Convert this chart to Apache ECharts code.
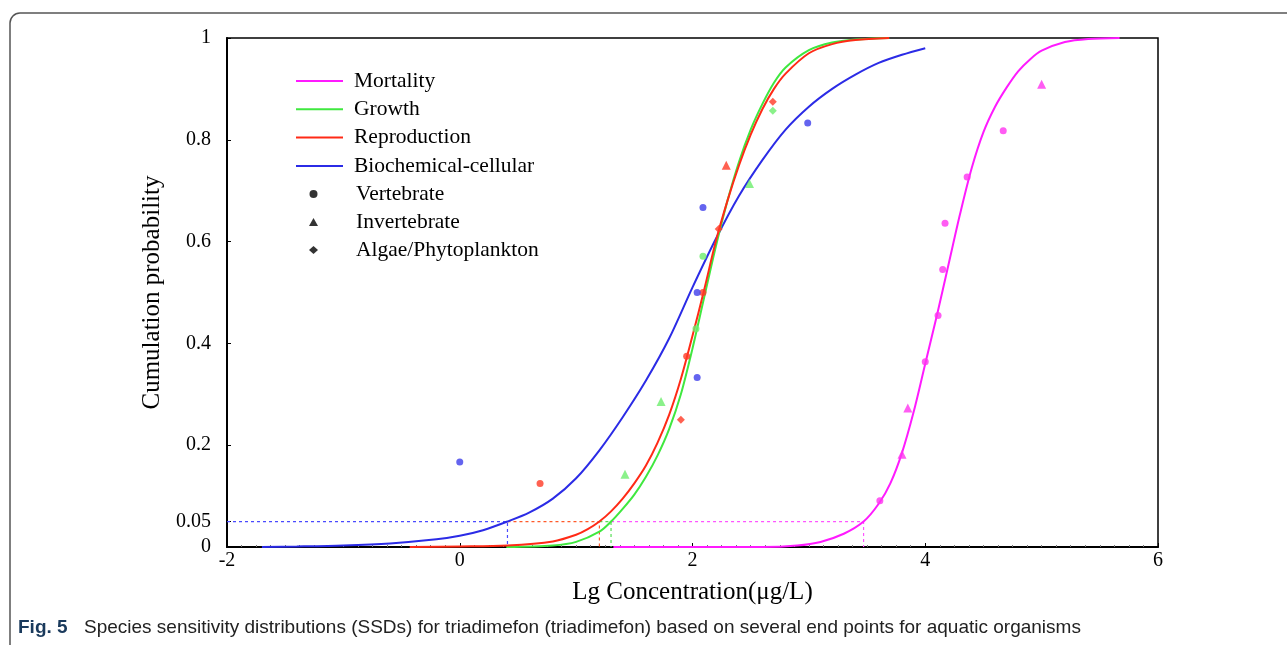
<!DOCTYPE html>
<html>
<head>
<meta charset="utf-8">
<title>SSD triadimefon</title>
<script src="https://cdn.jsdelivr.net/npm/echarts@6.0.0/dist/echarts.min.js"></script>
<style>
  html, body { margin: 0; padding: 0; background: #fff; }
  #chart { width: 1287px; height: 645px; }
</style>
</head>
<body>
<div id="chart"></div>
<script>
// fitted curves (x = lg concentration, y = cumulative probability)
const mortalityCurveX = [1.32, 2.6, 2.9, 3.1, 3.3, 3.47, 3.6, 3.7, 3.8, 3.9, 4.0, 4.1, 4.2, 4.3, 4.4, 4.5, 4.6, 4.7, 4.8, 4.9, 5.0, 5.2, 5.4, 5.67];
const mortalityCurveY = [0, 0, 0.003, 0.01, 0.026, 0.05, 0.085, 0.125, 0.185, 0.265, 0.36, 0.455, 0.555, 0.655, 0.745, 0.815, 0.865, 0.903, 0.935, 0.958, 0.975, 0.992, 0.998, 1];
const growthCurveX = [0.4, 0.8, 1.0, 1.2, 1.3, 1.4, 1.5, 1.6, 1.7, 1.8, 1.9, 2.0, 2.1, 2.2, 2.3, 2.4, 2.5, 2.6, 2.7, 2.8, 3.0, 3.2, 3.4, 3.69];
const growthCurveY = [0, 0.003, 0.01, 0.03, 0.05, 0.075, 0.103, 0.138, 0.18, 0.232, 0.3, 0.39, 0.49, 0.59, 0.68, 0.757, 0.82, 0.87, 0.912, 0.942, 0.976, 0.991, 0.997, 1];
const reproCurveX = [-0.43, 0, 0.41, 0.8, 1.0, 1.1, 1.2, 1.3, 1.4, 1.5, 1.6, 1.7, 1.8, 1.9, 2.0, 2.1, 2.2, 2.3, 2.4, 2.5, 2.6, 2.7, 2.8, 3.0, 3.2, 3.4, 3.69];
const reproCurveY = [0, 0.001, 0.003, 0.011, 0.024, 0.035, 0.05, 0.07, 0.095, 0.125, 0.16, 0.205, 0.26, 0.33, 0.415, 0.505, 0.6, 0.68, 0.75, 0.81, 0.86, 0.9, 0.93, 0.97, 0.988, 0.996, 1];
const biochemCurveX = [-1.7, -1.4, -1.0, -0.6, -0.2, 0, 0.2, 0.41, 0.6, 0.8, 1.0, 1.2, 1.4, 1.6, 1.8, 2.0, 2.2, 2.4, 2.6, 2.8, 3.0, 3.2, 3.4, 3.6, 3.8, 4.0];
const biochemCurveY = [0, 0.001, 0.003, 0.007, 0.015, 0.022, 0.033, 0.05, 0.068, 0.095, 0.135, 0.19, 0.255, 0.327, 0.41, 0.51, 0.605, 0.69, 0.76, 0.82, 0.865, 0.9, 0.928, 0.951, 0.967, 0.98];

// HC5 crossings (x where each curve reaches 0.05): mortality, growth, reproduction, biochemical
const hc5X = [3.47, 1.3, 1.2, 0.41];
const hc5Level = 0.05;

// observed points; type V = vertebrate, I = invertebrate, A = algae/phytoplankton
const mortalityPtsX = [3.61, 3.8, 3.85, 4.0, 4.11, 4.15, 4.17, 4.36, 4.67, 5.0];
const mortalityPtsY = [0.091, 0.182, 0.273, 0.364, 0.455, 0.545, 0.636, 0.727, 0.818, 0.909];
const mortalityPtsType = ['V', 'I', 'I', 'V', 'V', 'V', 'V', 'V', 'V', 'I'];
const growthPtsX = [1.42, 1.73, 2.03, 2.09, 2.49, 2.69];
const growthPtsY = [0.143, 0.286, 0.429, 0.571, 0.714, 0.857];
const growthPtsType = ['I', 'I', 'V', 'V', 'I', 'A'];
const reproPtsX = [0.69, 1.9, 1.95, 2.09, 2.225, 2.29, 2.69];
const reproPtsY = [0.125, 0.25, 0.375, 0.5, 0.625, 0.75, 0.875];
const reproPtsType = ['V', 'A', 'V', 'V', 'A', 'I', 'A'];
const biochemPtsX = [0, 2.04, 2.04, 2.09, 2.99];
const biochemPtsY = [0.167, 0.333, 0.5, 0.667, 0.833];
const biochemPtsType = ['V', 'V', 'V', 'V', 'V'];

const xTicks = [-2, 0, 2, 4, 6];
const yTicks = [0, 0.05, 0.2, 0.4, 0.6, 0.8, 1];

const curveNames = ['Mortality', 'Growth', 'Reproduction', 'Biochemical-cellular'];
const groupNames = ['Vertebrate', 'Invertebrate', 'Algae/Phytoplankton'];

const colors = {
  Mortality: '#ff1aff',
  Growth: '#3fe83f',
  Reproduction: '#ff2a16',
  'Biochemical-cellular': '#2b2be6'
};
const dashColors = {
  Mortality: '#ff55ff',
  Growth: '#55dd55',
  Reproduction: '#ff5a2a',
  'Biochemical-cellular': '#4a4aff'
};
const ptColors = {
  Mortality: '#ff33f0',
  Growth: '#6ded6d',
  Reproduction: '#ff3a26',
  'Biochemical-cellular': '#3d3deb'
};

const serif = '"Liberation Serif", "DejaVu Serif", serif';
const sans = '"Liberation Sans", Arial, sans-serif';

function zip(xs, ys) {
  return xs.map((x, i) => [x, ys[i]]);
}

const curves = [
  { name: 'Biochemical-cellular', x: biochemCurveX, y: biochemCurveY },
  { name: 'Growth', x: growthCurveX, y: growthCurveY },
  { name: 'Reproduction', x: reproCurveX, y: reproCurveY },
  { name: 'Mortality', x: mortalityCurveX, y: mortalityCurveY }
];

const pointSets = [
  { name: 'Mortality', x: mortalityPtsX, y: mortalityPtsY, t: mortalityPtsType },
  { name: 'Growth', x: growthPtsX, y: growthPtsY, t: growthPtsType },
  { name: 'Reproduction', x: reproPtsX, y: reproPtsY, t: reproPtsType },
  { name: 'Biochemical-cellular', x: biochemPtsX, y: biochemPtsY, t: biochemPtsType }
];

let series = [];

// dashed HC5 guides: each horizontal piece starts where the previous (smaller) crossing ends
curveNames.forEach((name, i) => {
  const xc = hc5X[i];
  const lower = hc5X.filter((v) => v < xc);
  const start = lower.length ? Math.max.apply(null, lower) : -2;
  series.push({
    name: 'hc5-' + name,
    type: 'line',
    silent: true,
    symbol: 'none',
    color: dashColors[name],
    data: [[start, hc5Level], [xc, hc5Level], [xc, 0]],
    lineStyle: { color: dashColors[name], width: 1.2, type: [3, 3] },
    itemStyle: { color: dashColors[name] },
    z: 1
  });
});

curves.forEach((c) => {
  series.push({
    name: c.name,
    type: 'line',
    symbol: 'none',
    showSymbol: false,
    smooth: 0.3,
    color: colors[c.name],
    data: zip(c.x, c.y),
    lineStyle: { color: colors[c.name], width: 2 },
    itemStyle: { color: colors[c.name] },
    z: 3
  });
});

const shapeOf = { V: 'circle', I: 'triangle', A: 'diamond' };
const sizeOf = { V: 7, I: 9, A: 8 };
const groupOf = { V: 'Vertebrate', I: 'Invertebrate', A: 'Algae/Phytoplankton' };

['V', 'I', 'A'].forEach((k) => {
  let data = [];
  pointSets.forEach((p) => {
    p.x.forEach((x, i) => {
      if (p.t[i] === k) {
        data.push({ value: [x, p.y[i]], itemStyle: { color: ptColors[p.name] } });
      }
    });
  });
  series.push({
    name: groupOf[k],
    type: 'scatter',
    symbol: shapeOf[k],
    symbolSize: sizeOf[k],
    color: '#000',
    itemStyle: { color: '#000' },
    data: data,
    z: 5
  });
});

const legendText = {
  fontFamily: serif,
  fontSize: 21.5,
  lineHeight: 22,
  color: '#000'
};

const chart = echarts.init(document.getElementById('chart'));
chart.setOption({
  animation: false,
  backgroundColor: '#fff',
  grid: {
    left: 227,
    right: 129,
    top: 38,
    bottom: 98,
    show: true,
    borderColor: '#000',
    borderWidth: 1.5,
    backgroundColor: 'transparent'
  },
  legend: [
    {
      data: curveNames.map((n) => ({ name: n, icon: 'rect' })),
      orient: 'vertical',
      left: 291,
      top: 65,
      itemWidth: 47,
      itemHeight: 2,
      itemGap: 6.3,
      selectedMode: false,
      textStyle: Object.assign({ padding: [0, 0, 0, 6] }, legendText)
    },
    {
      data: groupNames.map((n) => ({ name: n })),
      orient: 'vertical',
      left: 304,
      top: 178,
      itemWidth: 9,
      itemHeight: 8,
      itemGap: 6,
      selectedMode: false,
      textStyle: Object.assign({ padding: [0, 0, 0, 33] }, legendText)
    }
  ],
  xAxis: {
    type: 'value',
    min: -2,
    max: 6,
    interval: 2,
    name: 'Lg Concentration(μg/L)',
    nameLocation: 'middle',
    nameGap: 33,
    nameTextStyle: { fontFamily: serif, fontSize: 25, color: '#000' },
    axisLine: { onZero: false, lineStyle: { color: '#000', width: 2 } },
    axisTick: { inside: true, length: 4, lineStyle: { color: '#000' } },
    minorTick: { show: true, splitNumber: 16, length: 2, lineStyle: { color: '#777' } },
    axisLabel: {
      fontFamily: serif,
      fontSize: 20,
      color: '#000',
      margin: 4,
      customValues: xTicks
    },
    splitLine: { show: false }
  },
  yAxis: {
    type: 'value',
    min: 0,
    max: 1,
    name: 'Cumulation probability',
    nameLocation: 'middle',
    nameGap: 56,
    nameTextStyle: { fontFamily: serif, fontSize: 25, color: '#000' },
    axisLine: { show: true, onZero: false, lineStyle: { color: '#000', width: 2 } },
    axisTick: { show: true, inside: true, length: 4, customValues: yTicks, lineStyle: { color: '#000' } },
    axisLabel: {
      fontFamily: serif,
      fontSize: 20,
      color: '#000',
      margin: 16,
      customValues: yTicks
    },
    splitLine: { show: false }
  },
  graphic: [
    {
      type: 'rect',
      silent: true,
      shape: { x: 10, y: 13, width: 1300, height: 700, r: 10 },
      style: { fill: 'none', stroke: '#555', lineWidth: 1.5 }
    },
    {
      type: 'text',
      left: 18,
      top: 618,
      style: {
        text: 'Fig. 5',
        fontFamily: sans,
        fontWeight: 'bold',
        fontSize: 19,
        fill: '#1a3a5c'
      }
    },
    {
      type: 'text',
      left: 84,
      top: 618,
      style: {
        text: 'Species sensitivity distributions (SSDs) for triadimefon (triadimefon) based on several end points for aquatic organisms',
        fontFamily: sans,
        fontSize: 19,
        fill: '#222'
      }
    }
  ],
  series: series
});
</script>
</body>
</html>
